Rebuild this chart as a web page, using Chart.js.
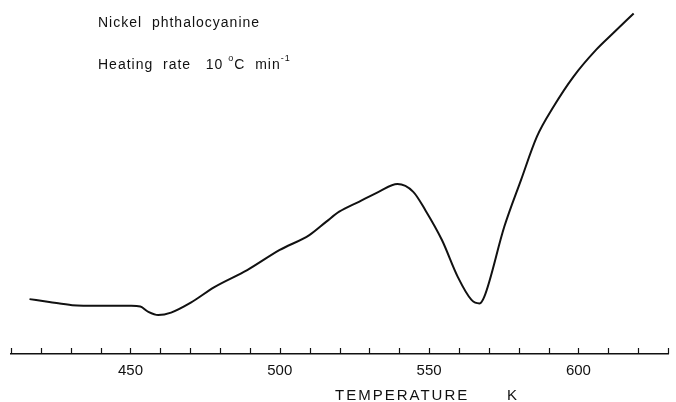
<!DOCTYPE html>
<html>
<head>
<meta charset="utf-8">
<script src="https://cdn.jsdelivr.net/npm/chart.js@4"></script>
<style>
body{margin:0;background:#fff;}
#wrap{width:676px;height:402px;}
</style>
</head>
<body>
<div id="wrap"><canvas id="dtaChart" width="676" height="402"></canvas></div>
<script>
// trace (arbitrary signal units, 0 = axis line)
const temps=[416.2,422.8,430.5,439.4,450.3,453.3,456.0,459.3,463.6,470.2,478.1,489.1,500.0,509.9,515.6,519.9,526.5,533.1,539.4,544.7,548.7,554.3,559.6,564.2,566.9,568.5,575.2,580.8,586.1,591.7,598.3,605.9,611.6,618.5];
const signal=[15.5,14.7,13.8,13.6,13.6,13.4,11.9,11.0,11.7,14.5,18.9,23.7,29.4,33.6,37.4,40.2,43.0,45.8,48.0,45.8,40.7,32.2,21.8,15.3,14.3,16.2,36.0,49.2,61.4,69.9,78.3,85.9,90.6,96.2];
const labelTicks=[450,500,550,600];
const xMin=410, xMax=630;

const FONT='"Liberation Sans", Arial, sans-serif';

// ticks point upward into the plot, plus the captions
const extras={
  id:'extras',
  afterDraw(chart){
    const c=chart.ctx, xs=chart.scales.x, area=chart.chartArea;
    c.save();
    c.strokeStyle='#111'; c.lineWidth=1.2;
    xs.ticks.forEach(t=>{
      const px=Math.round(xs.getPixelForValue(t.value))+0.5;
      c.beginPath(); c.moveTo(px,area.bottom); c.lineTo(px,area.bottom-6); c.stroke();
    });
    c.fillStyle='#111'; c.textBaseline='middle'; c.textAlign='left';
    c.font='14px '+FONT; c.letterSpacing='1px';
    c.fillText('Nickel  phthalocyanine',98,23);
    let x=98; const y=65;
    const part=(s,f,dy)=>{c.font=f; c.fillText(s,x,y+dy); x+=c.measureText(s).width;};
    part('Heating  rate   10 ','14px '+FONT,0);
    part('o','9px '+FONT,-6);
    part('C  min','14px '+FONT,0);
    part('-1','9px '+FONT,-6);
    c.font='15px '+FONT; c.letterSpacing='2px'; c.textBaseline='middle';
    c.fillText('TEMPERATURE',335,396);
    c.fillText('K',507,396);
    c.restore();
  }
};

new Chart(document.getElementById('dtaChart'),{
  type:'line',
  data:{datasets:[{
    data:temps.map((t,i)=>({x:t,y:signal[i]})),
    borderColor:'#111',borderWidth:2,pointRadius:0,
    tension:0.4,cubicInterpolationMode:'monotone',fill:false
  }]},
  options:{
    responsive:false,animation:false,
    layout:{padding:{left:11,right:0,top:0,bottom:0}},
    plugins:{legend:{display:false},tooltip:{enabled:false}},
    scales:{
      x:{type:'linear',min:xMin,max:xMax,
        afterFit(s){s.height=48;},
        grid:{display:false,drawTicks:false},
        border:{display:true,color:'#111',width:1.5},
        ticks:{stepSize:10,autoSkip:false,maxRotation:0,padding:8,color:'#111',
          font:{family:FONT,size:15},
          callback:v=>labelTicks.includes(v)?String(v):''}},
      y:{display:false,min:0,max:100}
    }
  },
  plugins:[extras]
});
</script>
</body>
</html>
